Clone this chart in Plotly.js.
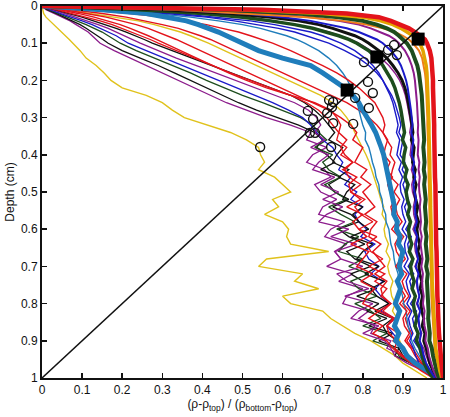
<!DOCTYPE html>
<html>
<head>
<meta charset="utf-8">
<script src="https://cdn.plot.ly/plotly-3.0.1.min.js"></script>
<style>html,body{margin:0;padding:0;background:#fff}#chart{width:450px;height:417px}</style>
</head>
<body>
<div id="chart"></div>
<script>
// Shared depth grid (cm)
const depth = [0,0.005,0.01,0.02,0.03,0.04,0.05,0.06,0.07,0.08,0.09,0.10,
  0.12,0.14,0.16,0.18,0.20,0.22,0.24,0.26,0.28,0.30,
  0.32,0.34,0.36,0.38,0.40,0.42,0.44,0.46,0.48,0.50,
  0.52,0.54,0.56,0.58,0.60,0.62,0.64,0.66,0.68,0.70,
  0.72,0.74,0.76,0.78,0.80,0.82,0.84,0.86,0.88,0.90,
  0.92,0.94,0.96,0.98,1.00];

// Normalised density profiles, one value per depth
const xRedThick = [0,0.35,0.55,0.76,0.84,0.87,0.895,0.915,0.93,0.945,0.955,0.96,
  0.967,0.971,0.973,0.974,0.975,0.975,0.976,0.976,0.977,0.977,
  0.978,0.978,0.978,0.979,0.979,0.98,0.98,0.98,0.981,0.981,
  0.981,0.982,0.982,0.982,0.983,0.983,0.983,0.984,0.984,0.984,
  0.985,0.985,0.986,0.986,0.987,0.987,0.988,0.989,0.99,0.991,
  0.992,0.994,0.996,0.998,1.0];
const xGoldThick = [0,0.3,0.5,0.7,0.8,0.845,0.875,0.895,0.91,0.925,0.935,0.942,
  0.95,0.955,0.958,0.96,0.961,0.962,0.963,0.963,0.964,0.964,
  0.965,0.965,0.966,0.966,0.967,0.967,0.967,0.968,0.968,0.968,
  0.969,0.969,0.97,0.97,0.97,0.971,0.971,0.972,0.972,0.972,
  0.973,0.973,0.974,0.974,0.975,0.976,0.977,0.978,0.979,0.98,
  0.982,0.985,0.988,0.992,0.997];
const xGreenThick = [0,0.25,0.45,0.64,0.74,0.8,0.835,0.86,0.878,0.89,0.9,0.91,
  0.922,0.93,0.936,0.94,0.943,0.945,0.947,0.948,0.949,0.95,
  0.951,0.95,0.953,0.951,0.952,0.954,0.952,0.955,0.953,0.954,
  0.957,0.955,0.956,0.958,0.956,0.959,0.957,0.958,0.961,0.958,
  0.962,0.96,0.961,0.963,0.962,0.964,0.963,0.965,0.967,0.966,
  0.972,0.975,0.979,0.984,0.99];
const xPurpleA = [0,0.2,0.38,0.56,0.67,0.74,0.79,0.82,0.845,0.865,0.88,0.89,
  0.905,0.915,0.922,0.927,0.93,0.932,0.934,0.935,0.936,0.937,
  0.938,0.937,0.939,0.938,0.937,0.941,0.939,0.942,0.94,0.941,
  0.944,0.942,0.943,0.945,0.943,0.947,0.944,0.946,0.949,0.946,
  0.95,0.948,0.949,0.952,0.95,0.954,0.952,0.954,0.958,0.956,
  0.962,0.965,0.97,0.976,0.985];
const xBlueA = [0,0.17,0.33,0.5,0.6,0.67,0.72,0.76,0.79,0.815,0.835,0.85,
  0.87,0.885,0.895,0.902,0.908,0.912,0.915,0.918,0.92,0.922,
  0.924,0.921,0.926,0.924,0.922,0.928,0.925,0.931,0.926,0.929,
  0.933,0.93,0.931,0.935,0.929,0.936,0.933,0.934,0.938,0.932,
  0.939,0.935,0.937,0.941,0.936,0.943,0.939,0.941,0.945,0.942,
  0.948,0.952,0.958,0.968,0.98];
const xBlackThick = [0,0.15,0.3,0.47,0.57,0.64,0.69,0.725,0.755,0.78,0.8,0.815,
  0.84,0.86,0.875,0.888,0.898,0.905,0.91,0.914,0.917,0.92,
  0.922,0.925,0.921,0.928,0.926,0.924,0.931,0.927,0.933,0.929,
  0.932,0.937,0.933,0.939,0.935,0.937,0.942,0.937,0.944,0.94,
  0.942,0.947,0.943,0.949,0.945,0.947,0.952,0.948,0.955,0.952,
  0.958,0.962,0.967,0.975,0.985];
const xGreenThickB = [0,0.12,0.24,0.4,0.5,0.57,0.63,0.675,0.71,0.74,0.765,0.785,
  0.815,0.835,0.85,0.862,0.872,0.88,0.886,0.891,0.895,0.898,
  0.9,0.904,0.899,0.907,0.903,0.901,0.91,0.905,0.913,0.908,
  0.911,0.917,0.912,0.919,0.914,0.916,0.922,0.916,0.925,0.919,
  0.922,0.928,0.923,0.931,0.926,0.929,0.935,0.93,0.938,0.934,
  0.943,0.947,0.953,0.962,0.975];
const xBlueB = [0,0.1,0.2,0.34,0.44,0.52,0.58,0.63,0.67,0.7,0.725,0.745,
  0.78,0.805,0.825,0.84,0.85,0.86,0.868,0.875,0.88,0.884,
  0.888,0.884,0.892,0.889,0.885,0.896,0.89,0.899,0.893,0.895,
  0.903,0.897,0.9,0.907,0.898,0.91,0.904,0.906,0.913,0.903,
  0.916,0.908,0.912,0.919,0.91,0.922,0.914,0.918,0.925,0.917,
  0.926,0.932,0.94,0.955,0.975];
const xTealThin = [0,0.08,0.16,0.28,0.37,0.44,0.5,0.545,0.58,0.61,0.635,0.655,
  0.69,0.715,0.735,0.75,0.762,0.772,0.78,0.786,0.79,0.795,
  0.8,0.807,0.806,0.815,0.82,0.824,0.83,0.833,0.84,0.842,
  0.848,0.85,0.857,0.858,0.865,0.868,0.87,0.876,0.878,0.882,
  0.888,0.89,0.895,0.899,0.902,0.908,0.91,0.913,0.918,0.922,
  0.93,0.94,0.952,0.966,0.982];
const xTealThick = [0,0.08,0.15,0.26,0.32,0.36,0.39,0.42,0.44,0.46,0.48,0.495,
  0.54,0.6,0.67,0.7,0.73,0.755,0.775,0.79,0.8,0.812,
  0.822,0.832,0.84,0.846,0.852,0.856,0.861,0.865,0.868,0.872,
  0.874,0.879,0.877,0.886,0.884,0.893,0.889,0.9,0.895,0.891,
  0.897,0.886,0.894,0.889,0.881,0.892,0.884,0.879,0.89,0.882,
  0.9,0.91,0.93,0.96,0.99];
const xRedA = [0,0.04,0.08,0.15,0.21,0.26,0.3,0.34,0.37,0.395,0.42,0.44,
  0.48,0.52,0.56,0.6,0.64,0.68,0.72,0.76,0.79,0.815,
  0.835,0.85,0.86,0.872,0.868,0.88,0.874,0.87,0.888,0.878,
  0.892,0.882,0.886,0.898,0.884,0.902,0.89,0.895,0.906,0.889,
  0.91,0.898,0.904,0.915,0.9,0.918,0.906,0.912,0.922,0.91,
  0.924,0.935,0.948,0.965,0.985];
const xRedB = [0,0.03,0.06,0.11,0.16,0.2,0.235,0.265,0.29,0.315,0.335,0.355,
  0.395,0.435,0.475,0.515,0.555,0.595,0.635,0.675,0.715,0.745,
  0.77,0.785,0.775,0.8,0.79,0.78,0.81,0.795,0.82,0.8,
  0.815,0.83,0.805,0.835,0.82,0.815,0.845,0.825,0.84,0.855,
  0.83,0.86,0.845,0.85,0.87,0.84,0.875,0.86,0.865,0.885,
  0.88,0.9,0.925,0.95,0.98];
const xRedC = [0,0.025,0.05,0.09,0.13,0.165,0.195,0.22,0.245,0.265,0.285,0.305,
  0.345,0.385,0.425,0.465,0.51,0.56,0.62,0.68,0.72,0.735,
  0.745,0.74,0.76,0.745,0.755,0.775,0.75,0.785,0.765,0.77,
  0.795,0.76,0.8,0.775,0.79,0.81,0.77,0.815,0.8,0.785,
  0.825,0.795,0.83,0.81,0.8,0.84,0.815,0.85,0.825,0.86,
  0.875,0.895,0.92,0.945,0.975];
const xYellowThin = [0,0.03,0.07,0.13,0.19,0.24,0.28,0.315,0.345,0.37,0.395,0.415,
  0.455,0.495,0.535,0.575,0.615,0.655,0.695,0.725,0.745,0.76,
  0.772,0.78,0.79,0.798,0.808,0.816,0.822,0.828,0.835,0.84,
  0.845,0.852,0.848,0.858,0.853,0.856,0.864,0.858,0.868,0.862,
  0.866,0.875,0.869,0.872,0.881,0.874,0.886,0.879,0.884,0.892,
  0.9,0.915,0.935,0.955,0.98];
const xOrange = [0,0.2,0.33,0.5,0.66,0.75,0.81,0.85,0.88,0.9,0.915,0.925,
  0.94,0.948,0.952,0.955,0.957,0.958,0.959,0.96,0.96,0.961,
  0.961,0.962,0.962,0.963,0.963,0.964,0.964,0.964,0.965,0.965,
  0.966,0.966,0.966,0.967,0.967,0.968,0.968,0.968,0.969,0.969,
  0.97,0.97,0.971,0.971,0.972,0.973,0.974,0.975,0.976,0.977,
  0.979,0.982,0.986,0.991,0.997];
const xPurpleB = [0,0.12,0.24,0.4,0.51,0.58,0.635,0.68,0.715,0.745,0.77,0.79,
  0.82,0.845,0.865,0.88,0.892,0.9,0.906,0.91,0.914,0.917,
  0.92,0.917,0.922,0.92,0.918,0.925,0.921,0.927,0.922,0.924,
  0.93,0.926,0.927,0.932,0.925,0.934,0.929,0.931,0.937,0.93,
  0.939,0.933,0.936,0.941,0.934,0.943,0.937,0.94,0.947,0.941,
  0.952,0.958,0.965,0.975,0.99];
const xRedD = [0,0.06,0.12,0.22,0.3,0.36,0.41,0.45,0.49,0.52,0.55,0.575,
  0.62,0.66,0.7,0.735,0.765,0.79,0.81,0.83,0.84,0.85,
  0.855,0.85,0.862,0.856,0.852,0.868,0.86,0.874,0.862,0.868,
  0.88,0.87,0.874,0.886,0.872,0.89,0.88,0.884,0.895,0.882,
  0.9,0.888,0.895,0.906,0.892,0.91,0.9,0.904,0.916,0.905,
  0.92,0.93,0.945,0.965,0.99];
const xBlueC = [0,0.09,0.18,0.31,0.41,0.48,0.54,0.59,0.63,0.66,0.69,0.715,
  0.755,0.79,0.815,0.835,0.85,0.862,0.872,0.88,0.886,0.891,
  0.895,0.89,0.9,0.896,0.893,0.905,0.898,0.909,0.9,0.906,
  0.914,0.904,0.91,0.918,0.907,0.921,0.912,0.915,0.924,0.913,
  0.927,0.917,0.922,0.931,0.919,0.934,0.924,0.928,0.937,0.927,
  0.94,0.945,0.955,0.968,0.985];
const xFanPurple = [0,0.005,0.01,0.03,0.05,0.07,0.085,0.1,0.115,0.125,0.135,0.145,
  0.18,0.22,0.26,0.3,0.34,0.38,0.42,0.46,0.51,0.56,
  0.62,0.67,0.66,0.71,0.675,0.66,0.705,0.72,0.68,0.695,
  0.735,0.7,0.69,0.755,0.72,0.705,0.76,0.73,0.745,0.71,
  0.775,0.74,0.8,0.76,0.75,0.815,0.79,0.83,0.82,0.87,
  0.86,0.9,0.93,0.96,0.99];
const xFanBlack = [0,0.006,0.013,0.035,0.055,0.075,0.095,0.11,0.125,0.14,0.152,0.165,
  0.2,0.245,0.29,0.33,0.37,0.41,0.45,0.49,0.535,0.585,
  0.64,0.68,0.7,0.685,0.71,0.73,0.695,0.745,0.715,0.73,
  0.765,0.725,0.77,0.79,0.74,0.765,0.805,0.76,0.78,0.82,
  0.77,0.8,0.835,0.785,0.84,0.81,0.86,0.815,0.875,0.84,
  0.89,0.88,0.92,0.95,0.985];
const xFanGreen = [0,0.008,0.016,0.04,0.065,0.09,0.11,0.13,0.15,0.165,0.18,0.195,
  0.235,0.28,0.325,0.37,0.41,0.455,0.5,0.55,0.6,0.645,
  0.675,0.69,0.71,0.68,0.725,0.7,0.715,0.745,0.705,0.73,
  0.76,0.715,0.745,0.78,0.735,0.79,0.755,0.74,0.8,0.765,
  0.815,0.77,0.79,0.835,0.78,0.82,0.845,0.8,0.86,0.825,
  0.88,0.89,0.92,0.955,0.99];
const xFanBlue = [0,0.01,0.02,0.045,0.075,0.1,0.125,0.145,0.165,0.185,0.2,0.215,
  0.26,0.305,0.35,0.395,0.44,0.485,0.53,0.575,0.615,0.65,
  0.67,0.685,0.7,0.725,0.735,0.75,0.74,0.77,0.755,0.785,
  0.77,0.8,0.78,0.79,0.81,0.795,0.83,0.805,0.815,0.84,
  0.82,0.85,0.83,0.845,0.865,0.845,0.88,0.86,0.875,0.89,
  0.9,0.915,0.935,0.96,0.99];
const xFanPurpleB = [0,0.012,0.025,0.055,0.085,0.115,0.14,0.165,0.185,0.205,0.225,0.245,
  0.29,0.335,0.385,0.435,0.485,0.535,0.585,0.63,0.665,0.685,
  0.695,0.68,0.705,0.67,0.715,0.69,0.675,0.73,0.695,0.74,
  0.7,0.75,0.71,0.69,0.765,0.72,0.785,0.73,0.745,0.8,
  0.735,0.76,0.815,0.755,0.825,0.79,0.77,0.84,0.8,0.855,
  0.87,0.88,0.91,0.95,0.985];
const xFanBlackB = [0,0.015,0.03,0.065,0.1,0.13,0.16,0.185,0.21,0.235,0.255,0.275,
  0.325,0.375,0.425,0.475,0.525,0.575,0.62,0.655,0.68,0.7,
  0.715,0.73,0.715,0.75,0.735,0.725,0.765,0.74,0.78,0.76,
  0.75,0.8,0.775,0.79,0.815,0.77,0.825,0.8,0.785,0.84,
  0.805,0.855,0.82,0.835,0.865,0.83,0.875,0.85,0.86,0.885,
  0.89,0.9,0.93,0.96,0.99];
const xFanRed = [0,0.018,0.035,0.075,0.11,0.145,0.175,0.2,0.225,0.25,0.27,0.29,
  0.335,0.38,0.425,0.47,0.52,0.57,0.62,0.66,0.69,0.71,
  0.725,0.74,0.735,0.76,0.745,0.775,0.755,0.765,0.795,0.77,
  0.805,0.78,0.795,0.825,0.79,0.835,0.81,0.82,0.85,0.815,
  0.855,0.83,0.86,0.845,0.87,0.85,0.88,0.86,0.89,0.875,
  0.9,0.915,0.94,0.965,0.99];
const xYellowLow = [0,0.001,0.002,0.004,0.01,0.02,0.03,0.04,0.05,0.06,0.068,0.077,
  0.095,0.11,0.135,0.155,0.172,0.2,0.26,0.3,0.325,0.355,
  0.41,0.47,0.51,0.54,0.545,0.555,0.54,0.58,0.6,0.62,
  0.575,0.59,0.555,0.6,0.615,0.61,0.62,0.715,0.56,0.54,
  0.65,0.63,0.69,0.6,0.62,0.7,0.72,0.75,0.78,0.82,
  0.85,0.88,0.9,0.93,0.96];

// Reference diagonal
const diagX = [0, 1];
const diagD = [1, 0];
// Open-circle markers
const circleX = [0.544,0.663,0.676,0.668,0.681,0.721,0.711,0.716,0.726,0.723,0.726,0.776,0.781,0.815,0.813,0.825,0.803,0.863,0.878,0.885];
const circleD = [0.379,0.282,0.304,0.341,0.341,0.379,0.288,0.253,0.258,0.272,0.315,0.317,0.247,0.274,0.204,0.234,0.151,0.118,0.105,0.132];
// Filled squares
const squareX = [0.761,0.835,0.938];
const squareD = [0.226,0.137,0.089];

const C = {red:'#e3131b', gold:'#e3a400', green:'#1d4d1d', purple:'#8c1c8c', blue:'#1a1ac8',
  black:'#111111', teal:'#1f7dbb', yellow:'#e0c21c', orange:'#ef7d1a'};

const series = [
  [xYellowLow, C.yellow, 1.4],
  [xFanPurple, C.purple, 1.3],
  [xFanBlack, C.black, 1.3],
  [xFanGreen, C.green, 1.3],
  [xFanBlue, C.blue, 1.3],
  [xFanPurpleB, C.purple, 1.3],
  [xFanBlackB, C.black, 1.3],
  [xFanRed, C.red, 1.3],
  [xYellowThin, C.yellow, 1.4],
  [xRedC, C.red, 1.4],
  [xRedB, C.red, 1.4],
  [xRedA, C.red, 1.4],
  [xTealThin, C.teal, 1.4],
  [xRedD, C.red, 1.4],
  [xBlueB, C.blue, 1.4],
  [xBlueC, C.blue, 1.4],
  [xPurpleB, C.purple, 1.4],
  [xTealThick, C.teal, 5],
  [xGreenThickB, C.green, 3.5],
  [xBlackThick, C.black, 3],
  [xBlueA, C.blue, 2],
  [xPurpleA, C.purple, 2],
  [xOrange, C.orange, 2],
  [xGreenThick, C.green, 4],
  [xGoldThick, C.gold, 3.5],
  [xRedThick, C.red, 4.5]
];

const traces = series.map(s => ({
  x: s[0], y: depth.slice(0, s[0].length), type:'scatter', mode:'lines',
  line:{color:s[1], width:s[2]}, hoverinfo:'skip'
}));
traces.push({x:diagX, y:diagD, type:'scatter', mode:'lines', line:{color:'#111', width:1.5}, hoverinfo:'skip'});
traces.push({x:circleX, y:circleD, type:'scatter', mode:'markers',
  marker:{symbol:'circle-open', size:9, color:'#111', line:{width:1.4, color:'#111'}}, hoverinfo:'skip'});
traces.push({x:squareX, y:squareD, type:'scatter', mode:'markers',
  marker:{symbol:'square', size:13, color:'#000'}, hoverinfo:'skip'});

const axisCommon = {
  dtick:0.1, tick0:0, ticks:'inside', ticklen:5, tickwidth:1.5, tickcolor:'#111',
  showline:true, linewidth:2, linecolor:'#111', mirror:'ticks',
  showgrid:false, zeroline:false, automargin:false, ticklabeloverflow:'allow',
  tickfont:{size:12, color:'#111'}
};

const layout = {
  width:450, height:417,
  margin:{l:42, r:7, t:6, b:39},
  showlegend:false,
  paper_bgcolor:'#fff', plot_bgcolor:'#fff',
  font:{family:'Liberation Sans, Arial, sans-serif', size:12, color:'#111'},
  xaxis:Object.assign({}, axisCommon, {
    range:[0,1],
    title:{text:'(ρ-ρ<sub>top</sub>) / (ρ<sub>bottom</sub>-ρ<sub>top</sub>)', font:{size:12}, standoff:2}
  }),
  yaxis:Object.assign({}, axisCommon, {
    range:[1,0],
    title:{text:'Depth (cm)', font:{size:12}, standoff:4}
  })
};

Plotly.newPlot('chart', traces, layout, {staticPlot:true, displayModeBar:false});
</script>
</body>
</html>
